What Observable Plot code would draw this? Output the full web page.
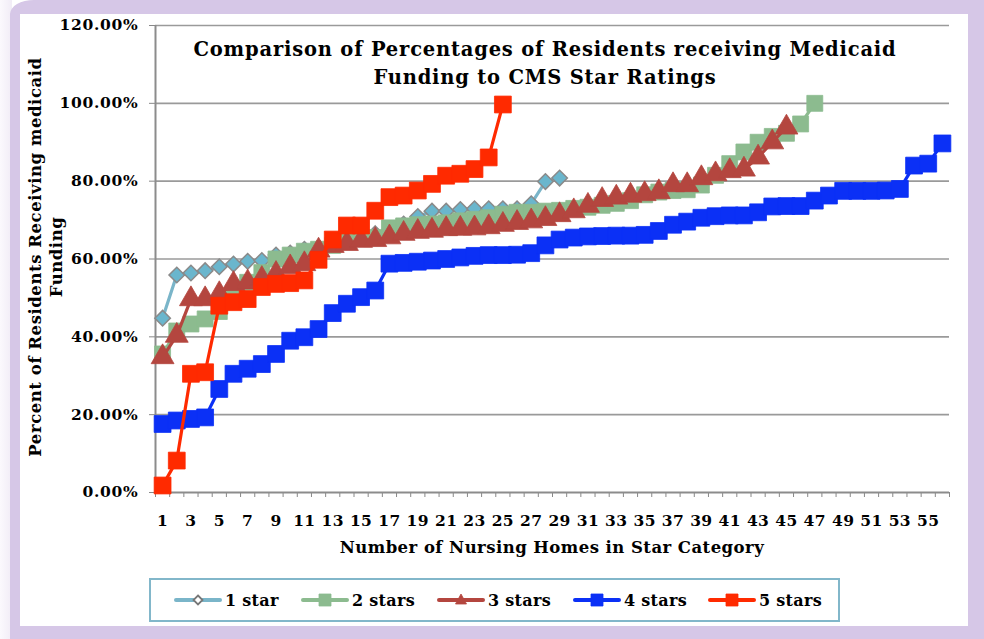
<!DOCTYPE html>
<html><head><meta charset="utf-8">
<script src="https://cdn.jsdelivr.net/npm/d3@7"></script>
<script src="https://cdn.jsdelivr.net/npm/@observablehq/plot@0.6"></script>
<style>
html,body{margin:0;padding:0;background:#fff;}
body{width:984px;height:639px;overflow:hidden;position:relative;font-family:"DejaVu Serif",serif;font-weight:bold;color:#000;}
#edge{position:absolute;left:0;top:0;width:12px;height:639px;background:linear-gradient(to right,#fbf9fd,#f1ecf6);}
#frame{position:absolute;left:10px;top:0px;width:974px;height:639px;box-sizing:border-box;border-style:solid;border-color:#d6c7e7;border-width:14px 16px 13px 10px;border-top-left-radius:24px 14px;}
#chart{position:absolute;left:0;top:0;}
#chart svg g[aria-label="y-axis tick label"] text{letter-spacing:0.7px;}
#chart svg g[aria-label="x-axis tick label"] text{letter-spacing:0.4px;}
#title{position:absolute;left:120px;width:850px;top:36px;text-align:center;font-size:19.5px;letter-spacing:0.8px;line-height:28px;}
#ylab{position:absolute;left:46px;top:257px;width:460px;transform:translate(-50%,-50%) rotate(-90deg);text-align:center;font-size:16.5px;letter-spacing:0.55px;line-height:21px;}
#xlab{position:absolute;left:552px;top:538px;transform:translateX(-50%);font-size:16.5px;letter-spacing:0.45px;white-space:nowrap;}
#legend{position:absolute;left:149px;top:578px;width:691px;height:44px;box-sizing:border-box;border:2px solid #82b7ca;}
.item{position:absolute;top:9px;height:22px;display:flex;align-items:center;font-size:16px;letter-spacing:0.3px;white-space:nowrap;}
.item svg{margin-right:3px;display:block;}
</style></head><body>
<div id="edge"></div>
<div id="frame"></div>
<div id="chart"></div>
<div id="title">Comparison of Percentages of Residents receiving Medicaid<br>Funding to CMS Star Ratings</div>
<div id="ylab">Percent of Residents Receiving medicaid<br>Funding</div>
<div id="xlab">Number of Nursing Homes in Star Category</div>
<div id="legend"></div>
<script>
// ---- data (percent values, index = position in star category) ----
const seriesNames = ["1 star", "2 stars", "3 stars", "4 stars", "5 stars"];
const oneStar = [44.8, 55.9, 56.4, 57, 58, 58.7, 59.4, 59.6, 61, 61.5, 62.5, 63, 64, 64.5, 65.5, 66.5, 67.5, 69, 70.9, 72.3, 72.3, 72.7, 72.9, 72.9, 72.9, 72.9, 74.2, 79.9, 80.8];
const twoStars = [35.6, 41.5, 43.3, 44.6, 46.5, 51, 54, 56.5, 60, 61, 62, 62.5, 63.5, 65, 65.5, 65.5, 68, 68.5, 68.8, 69, 69.3, 69.8, 70.2, 70.6, 71.5, 72, 72, 72.3, 72.5, 73, 73.3, 73.8, 74.3, 75, 76.5, 77.2, 77.6, 77.8, 79, 81.5, 84.5, 87.5, 90, 91.5, 92.3, 94.7, 100];
const threeStars = [34.8, 40.3, 49.7, 49.7, 51, 53.6, 54, 54.9, 56.2, 57.9, 58.7, 62.2, 63.4, 63.9, 64.7, 64.9, 65.6, 66.5, 67, 67.3, 67.7, 67.8, 67.9, 68.2, 68.8, 69.3, 69.7, 70.3, 71.3, 72.3, 73.7, 75.2, 75.8, 76.3, 76.7, 77.2, 79, 79, 80.8, 81.8, 82.6, 83, 86.1, 90, 93.8];
const fourStars = [17.6, 18.5, 18.9, 19.3, 26.6, 30.5, 31.8, 33, 35.6, 39, 39.9, 42, 46.1, 48.5, 50.2, 51.9, 58.8, 59, 59.3, 59.6, 60, 60.4, 60.8, 61, 61, 61.1, 61.5, 63.5, 65, 65.5, 65.8, 65.9, 66, 66, 66.2, 67.2, 68.8, 69.6, 70.6, 71, 71.2, 71.2, 72, 73.5, 73.6, 73.6, 75, 76.3, 77.5, 77.5, 77.5, 77.6, 78, 84, 84.5, 89.7];
const fiveStars = [1.8, 8.2, 30.5, 30.9, 48, 48.9, 49.7, 52.8, 53.6, 53.8, 54.5, 59.8, 65, 68.6, 68.6, 72.4, 75.9, 76.3, 77.6, 79.3, 81.4, 81.9, 83.1, 86.1, 99.7];
const categoryCount = 56;
const xTickLabels = [1,3,5,7,9,11,13,15,17,19,21,23,25,27,29,31,33,35,37,39,41,43,45,47,49,51,53,55];
const yTicks = [0, 20, 40, 60, 80, 100, 120];

// ---- styles ----
const lineColors = ["#7ab5c9", "#8cbb8f", "#b4463f", "#0b30f6", "#ff2a00"];
const markFills  = ["#6ab6cd", "#8cbb8f", "#b4463f", "#0b30f6", "#ff2a00"];
const markStrokes= ["#8a8a8a", "#8cbb8f", "#b4463f", "#0b30f6", "#ff2a00"];
const symbols    = ["diamond2", "square", "triangle", "square", "square"];
const radii      = [7, 9, 8.5, 9.5, 9.5];

const allValues = [oneStar, twoStars, threeStars, fourStars, fiveStars];
const rows = allValues.flatMap((vals, s) => vals.map((v, i) => ({series: seriesNames[s], s, n: i + 1, v})));
const boundaries = d3.range(0, categoryCount + 1).map(d => d + 0.5);

const dotMarks = seriesNames.map((name, s) =>
  Plot.dot(rows.filter(r => r.s === s), {x: "n", y: "v", symbol: () => symbols[s], r: radii[s],
    fill: markFills[s], stroke: markStrokes[s], strokeWidth: s === 0 ? 1.5 : 0.8}));
const lineMarks = seriesNames.map((name, s) =>
  Plot.line(rows.filter(r => r.s === s), {x: "n", y: "v", stroke: lineColors[s], strokeWidth: 3.2}));

const chart = Plot.plot({
  width: 984, height: 639,
  marginLeft: 155, marginRight: 35, marginTop: 25, marginBottom: 147,
  style: {background: "transparent", fontFamily: "DejaVu Serif", fontWeight: "bold", color: "#000"},
  x: {domain: [0.5, categoryCount + 0.5], label: null},
  y: {domain: [0, 120], label: null},
  symbol: {type: "identity"},
  marks: [
    Plot.ruleY(yTicks.slice(1), {stroke: "#9a9a9a", strokeWidth: 1.6}),
    Plot.axisY({ticks: yTicks, tickFormat: d => d.toFixed(2) + "%", tickSize: 6, tickPadding: 11, stroke: "#888", fontSize: 15.5, fontWeight: "bold", fill: "#000"}),
    Plot.axisX({ticks: boundaries, tickFormat: () => "", tickSize: 5, stroke: "#888"}),
    Plot.axisX({ticks: xTickLabels, tickFormat: d => String(d), tickSize: 0, tickPadding: 22, fontSize: 15.5, fontWeight: "bold", fill: "#000"}),
    Plot.ruleY([0], {stroke: "#8c8c8c", strokeWidth: 2}),
    Plot.ruleX([0.5], {stroke: "#8c8c8c", strokeWidth: 2}),
    ...seriesNames.flatMap((n, s) => [lineMarks[s], dotMarks[s]])
  ]
});
document.getElementById("chart").appendChild(chart);

// ---- legend ----
const legend = document.getElementById("legend");
const legendX = [23, 150, 286, 422, 557];
const symbolPaths = {
  diamond2: "M0,-4.5L4.5,0L0,4.5L-4.5,0Z",
  square: "M-6,-6H6V6H-6Z",
  triangle: "M0,-6L5.5,4H-5.5Z"
};
seriesNames.forEach((name, s) => {
  const item = document.createElement("div");
  item.className = "item";
  item.style.left = legendX[s] + "px";
  const path = symbols[s] === "diamond2" ? symbolPaths.diamond2 : symbols[s] === "triangle" ? symbolPaths.triangle : symbolPaths.square;
  item.innerHTML = `<svg width="48" height="16" viewBox="-24 -8 48 16"><line x1="-22" x2="22" y1="0" y2="0" stroke="${lineColors[s]}" stroke-width="4" stroke-linecap="round"/><path d="${path}" fill="${s===0?'#ffffff':markFills[s]}" stroke="${s===0?'#777':markStrokes[s]}" stroke-width="${s===0?1.8:0.8}"/></svg><span>${name}</span>`;
  legend.appendChild(item);
});
</script>
</body></html>
